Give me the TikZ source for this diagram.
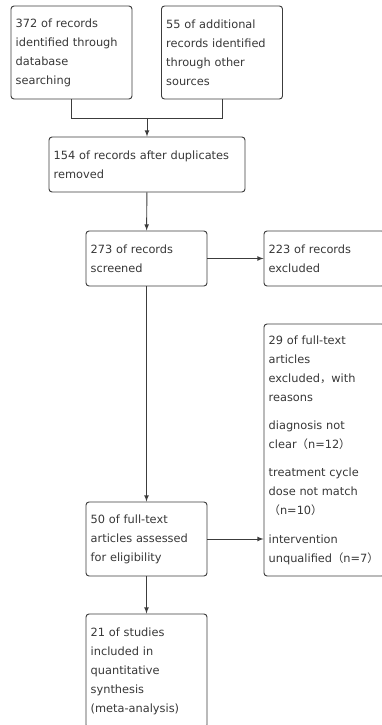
\documentclass[tikz,border=0pt]{standalone}
\usepackage{fontspec}
\setmainfont{DejaVu Sans}
\newfontfamily\cjk{Noto Sans CJK SC}
\usetikzlibrary{arrows}
\definecolor{linegray}{RGB}{60, 60, 60}
\definecolor{textgray}{RGB}{55, 55, 55}
\tikzstyle{flowbox}=[draw=linegray,line width=0.8pt,rounded corners=0.09cm,text=textgray,align=left,text width=3.35cm,minimum width=3.63cm,inner xsep=0.14cm,inner ysep=0.1cm,font=\fontsize{9.7}{16.2}\selectfont]
\tikzstyle{widebox}=[flowbox,text width=5.6cm,minimum width=5.88cm]
\tikzstyle{orientedarc}=[->,>=latex,draw=linegray,line width=0.8pt]
\tikzstyle{plainarc}=[draw=linegray,line width=0.8pt]

\begin{document}
\begin{tikzpicture}
\useasboundingbox (0cm,0cm) rectangle (11.46cm,21.75cm);
\node[flowbox,minimum height=2.79cm] (S1) at (2.145cm,20.175cm) {372 of records\\identified through\\database\\searching};
\node[flowbox,minimum height=2.79cm] (S2) at (6.66cm,20.175cm) {55 of additional\\records identified\\through other\\sources};
\node[widebox,minimum height=1.65cm] (S3) at (4.41cm,16.815cm) {154 of records after duplicates\\removed};
\node[flowbox,minimum height=1.65cm] (S4) at (4.395cm,13.995cm) {273 of records\\screened};
\node[flowbox,minimum height=1.65cm] (S5) at (9.735cm,13.995cm) {223 of records\\excluded};
\node[flowbox,minimum height=7.56cm] (S6) at (9.735cm,8.25cm) {29 of full-text\\articles\\excluded{\cjk ，}with\\reasons\\[8pt]diagnosis not\\clear{\cjk （}n=12{\cjk ）}\\[8pt]treatment cycle\\dose not match\\{\cjk （}n=10{\cjk ）}\\[8pt]intervention\\unqualified{\cjk （}n=7{\cjk ）}};
\node[flowbox,minimum height=2.22cm] (S7) at (4.395cm,5.58cm) {50 of full-text\\articles assessed\\for eligibility};
\node[flowbox,minimum height=3.42cm] (S8) at (4.395cm,1.62cm) {21 of studies\\included in\\quantitative\\synthesis\\(meta-analysis)};

\coordinate (JOIN) at (4.41cm,18.21cm);

\draw[plainarc] (S1.south) |- (JOIN);
\draw[plainarc] (S2.south) |- (JOIN);
\draw[orientedarc] (JOIN) -- (S3);
\draw[orientedarc] (S3) -- (S4);
\draw[orientedarc] (S4) -- (S5);
\draw[orientedarc] (S4) -- (S7);
\draw[orientedarc] (S7.east) -- (S7.east -| S6.west);
\draw[orientedarc] (S7) -- (S8);

\end{tikzpicture}
\end{document}
